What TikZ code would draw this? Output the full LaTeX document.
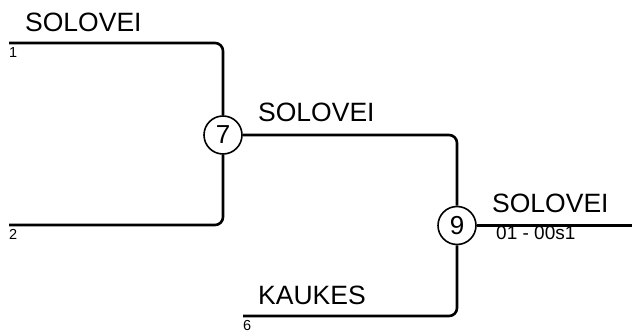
\documentclass[tikz,border=0pt]{standalone}
\usepackage{fontspec}
\setmainfont{Liberation Sans}
\usepackage{tikz}

\begin{document}
\begin{tikzpicture}[x=1pt, y=-1pt,
  bline/.style={line width=2.6pt, rounded corners=8pt},
  game/.style={draw, circle, line width=1.6pt, minimum size=38pt,
               inner sep=0pt, font=\fontsize{26}{26}\selectfont},
  team/.style={anchor=base west, inner sep=0pt,
               font=\fontsize{26.5}{26.5}\selectfont},
  seed/.style={anchor=base west, inner sep=0pt,
               font=\fontsize{14.5}{14.5}\selectfont},
  score/.style={anchor=base west, inner sep=0pt,
                font=\fontsize{19}{19}\selectfont}]
\useasboundingbox (0,0) rectangle (632,331);

\draw (223, 135) node[game] (g7) {7};
\draw (457, 225.5) node[game] (g9) {9};

\coordinate (s1) at (9, 43);
\coordinate (s2) at (9, 225);
\coordinate (s6) at (243, 316);
\coordinate (win) at (632, 225.5);

\draw[bline] (s1) -| (g7);
\draw[bline] (s2) -| (g7);
\draw[bline] (g7.east) -| (g9);
\draw[bline] (s6) -| (g9);
\draw[bline] (g9.east) -- (win);

\draw (25, 32) node[team] (t1) {SOLOVEI};
\draw (258, 122) node[team] (t7) {SOLOVEI};
\draw (258, 304) node[team] (t6) {KAUKES};
\draw (492, 213) node[team] (t9) {SOLOVEI};
\draw (496, 239.5) node[score] (r9) {01 - 00s1};

\draw (9, 57.5) node[seed] (n1) {1};
\draw (9, 239.5) node[seed] (n2) {2};
\draw (243, 330.5) node[seed] (n6) {6};
\end{tikzpicture}
\end{document}
